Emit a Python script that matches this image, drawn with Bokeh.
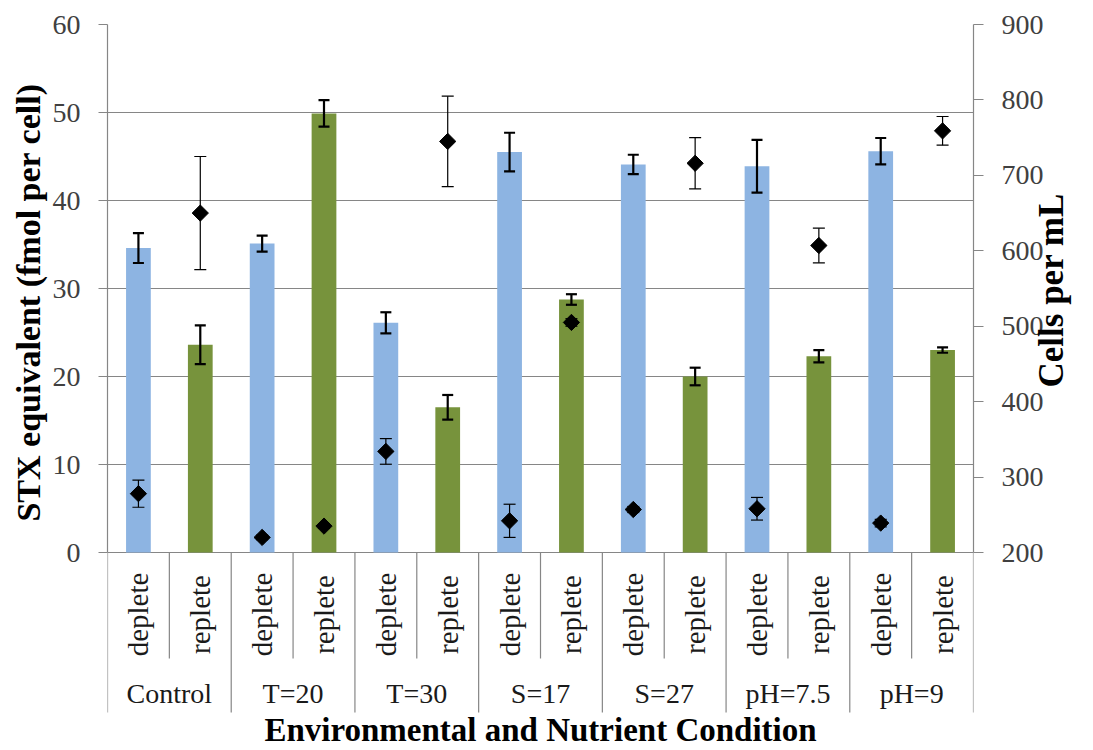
import math
from bokeh.plotting import figure
from bokeh.models import FactorRange, Range1d, LinearAxis, FixedTicker, ColumnDataSource
from bokeh.core.properties import value
from bokeh.embed import file_html
from bokeh.resources import INLINE

# ---------------- data ----------------
groups = ["Control", "T=20", "T=30", "S=17", "S=27", "pH=7.5", "pH=9"]
subs = ["deplete", "replete"]
stx = [34.6, 23.6, 35.1, 49.9, 26.1, 16.5, 45.5, 28.75, 44.1, 20.0, 43.9, 22.3, 45.6, 23.0]
stx_err = [1.7, 2.2, 0.9, 1.5, 1.2, 1.4, 2.2, 0.6, 1.1, 1.0, 3.0, 0.7, 1.5, 0.3]
cells = [278, 650, 220, 235, 334, 745, 242, 505, 257, 716, 258, 607, 239, 759]
cells_err = [18, 75, 3, 3, 17, 60, 22, 5, 4, 34, 15, 23, 5, 19]
left_ticks = [0, 10, 20, 30, 40, 50, 60]
right_ticks = [200, 300, 400, 500, 600, 700, 800, 900]

BLUE = "#8DB4E2"
GREEN = "#77933C"
GRID = "#868686"
SERIF = "Liberation Serif"
NBSP = "\u00a0"

factors = [(g, s) for g in groups for s in subs]
colors = [BLUE if s == "deplete" else GREEN for g, s in factors]
n = len(factors)

# geometry: frame x 107..974 px, y 24 (value 60) .. 750 px, value 0 at 552 px
FL, FR, FT, FB, Y0 = 107, 974, 24, 750, 552
px_per_unit = (Y0 - FT) / 60.0
left_bottom = 60 - (FB - FT) / px_per_unit
r_per_l = (900 - 200) / 60.0
right_bottom = 200 + left_bottom * r_per_l


def ydat(py):
    return (Y0 - py) / px_per_unit


p = figure(width=1093, height=750,
           x_range=FactorRange(*factors, range_padding=0, group_padding=0, subgroup_padding=0, factor_padding=0),
           y_range=Range1d(left_bottom, 60),
           output_backend="svg", toolbar_location=None,
           x_axis_location=None,
           min_border_left=FL, min_border_right=1093 - FR, min_border_top=FT, min_border_bottom=0)
p.outline_line_color = None
p.background_fill_color = "white"
p.border_fill_color = "white"
p.xgrid.visible = False
p.ygrid.ticker = FixedTicker(ticks=left_ticks)
p.ygrid.grid_line_color = GRID
p.ygrid.grid_line_width = 1.2

p.extra_y_ranges = {"cells": Range1d(right_bottom, 900)}

# left axis
ly = p.yaxis[0]
ly.ticker = FixedTicker(ticks=left_ticks)
ly.bounds = (left_ticks[0], left_ticks[-1])
ly.axis_line_color = GRID
ly.axis_line_width = 1.2
ly.major_tick_line_color = GRID
ly.major_tick_out = 9
ly.major_tick_in = 0
ly.minor_tick_line_color = None
ly.major_label_standoff = 18
ly.major_label_text_font = SERIF
ly.major_label_text_font_size = "28px"
ly.major_label_text_color = "#404040"
# leading no-break spaces lift the visible title to the centre of the value area
ly.axis_label = NBSP * 20 + "STX equivalent (fmol per cell)"
ly.axis_label_text_font = SERIF
ly.axis_label_text_font_style = "bold"
ly.axis_label_text_font_size = "34px"
ly.axis_label_text_color = "black"
ly.axis_label_standoff = 3

ry = LinearAxis(y_range_name="cells", ticker=FixedTicker(ticks=right_ticks))
ry.bounds = (right_ticks[0], right_ticks[-1])
ry.axis_line_color = GRID
ry.axis_line_width = 1.2
ry.major_tick_line_color = GRID
ry.major_tick_out = 10
ry.major_tick_in = 0
ry.minor_tick_line_color = None
ry.major_label_standoff = 18
ry.major_label_text_font = SERIF
ry.major_label_text_font_size = "28px"
ry.major_label_text_color = "#404040"
ry.axis_label = "Cells per mL"
ry.axis_label_text_font = SERIF
ry.axis_label_text_font_style = "bold"
ry.axis_label_text_font_size = "35px"
ry.axis_label_text_color = "black"
ry.axis_label_standoff = 5
try:
    ry.axis_label_orientation = math.pi / 2
except Exception:
    pass
p.add_layout(ry, "right")

# separators below the value area (decoration)
sep_bottom_group = ydat(712)
sep_bottom_sub = ydat(658)
gx = list(range(0, n + 1, 2))
p.segment(x0=gx, x1=gx, y0=[0] * len(gx), y1=[sep_bottom_group] * len(gx), line_color=GRID, line_width=1.2)
sx = list(range(1, n, 2))
p.segment(x0=sx, x1=sx, y0=[0] * len(sx), y1=[sep_bottom_sub] * len(sx), line_color=GRID, line_width=1.2)

# bars
src = ColumnDataSource(dict(x=factors, top=stx, color=colors,
                            lo=[v - e for v, e in zip(stx, stx_err)],
                            hi=[v + e for v, e in zip(stx, stx_err)],
                            cells=cells,
                            clo=[v - e for v, e in zip(cells, cells_err)],
                            chi=[v + e for v, e in zip(cells, cells_err)]))
p.vbar(x="x", top="top", bottom=0, width=0.4, fill_color="color", line_color=None, source=src)
p.segment(x0="x", x1="x", y0="lo", y1="hi", line_color="black", line_width=2.2, source=src)
p.scatter(x="x", y="lo", marker="dash", size=11, line_color="black", line_width=2.2, source=src)
p.scatter(x="x", y="hi", marker="dash", size=11, line_color="black", line_width=2.2, source=src)

# cells (right axis)
p.segment(x0="x", x1="x", y0="clo", y1="chi", line_color="black", line_width=1.2, source=src, y_range_name="cells")
p.scatter(x="x", y="clo", marker="dash", size=12, line_color="black", line_width=1.2, source=src, y_range_name="cells")
p.scatter(x="x", y="chi", marker="dash", size=12, line_color="black", line_width=1.2, source=src, y_range_name="cells")
p.scatter(x="x", y="cells", marker="square", angle=math.pi / 4, size=11.5, fill_color="black",
          line_color="black", source=src, y_range_name="cells")

# category labels
p.text(x=factors, y=[ydat(614)] * n, text=[s for g, s in factors], angle=math.pi / 2,
       text_align="center", text_baseline="middle", text_font=value(SERIF), text_font_size="29px",
       text_color="#1a1a1a")
p.text(x=groups, y=[ydat(693)] * len(groups), text=groups,
       text_align="center", text_baseline="middle", text_font=value(SERIF), text_font_size="28px",
       text_color="#1a1a1a")
p.text(x=[n / 2], y=[ydat(729)], text=["Environmental and Nutrient Condition"],
       text_align="center", text_baseline="middle", text_font=value(SERIF), text_font_size="33px",
       text_font_style="bold", text_color="black")

open("out.html", "w").write(file_html(p, INLINE))
